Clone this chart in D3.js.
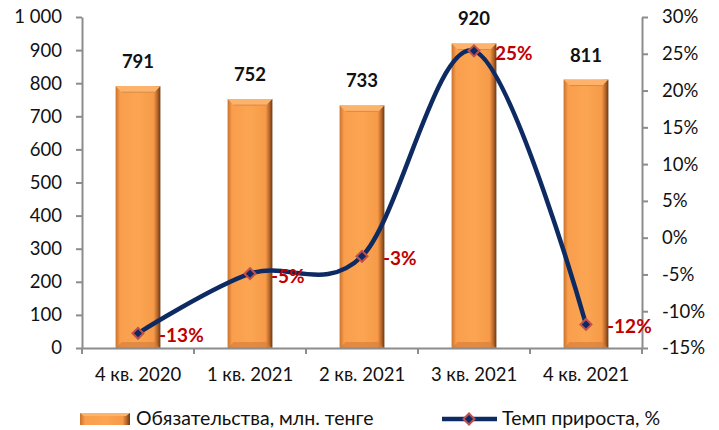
<!DOCTYPE html>
<html lang="ru">
<head>
<meta charset="utf-8">
<title>Обязательства</title>
<script src="https://d3js.org/d3.v7.min.js"></script>
<style>
  body { margin: 0; background: #fff; }
  .axis path, .axis line { stroke: #8c8c8c; stroke-width: 2; fill: none; }
  .axis text { font-family: Lato, "Open Sans", sans-serif; font-size: 18.5px; fill: #111; }
  .legend text { font-family: Lato, "Open Sans", sans-serif; font-size: 19.5px; fill: #111; }
</style>
</head>
<body>
<script>
const categories = ["4 кв. 2020", "1 кв. 2021", "2 кв. 2021", "3 кв. 2021", "4 кв. 2021"]
const liabilities = [791, 752, 733, 920, 811]
const growth = [-13, -4.9, -2.53, 25.4, -11.8]
const leftTicks = [0, 100, 200, 300, 400, 500, 600, 700, 800, 900, 1000]
const rightTicks = [-15, -10, -5, 0, 5, 10, 15, 20, 25, 30]

const w = 719
const h = 430
const plotL = 82, plotR = 642, plotT = 17, plotB = 348

const svg = d3.select("body").append("svg")
    .attr("width", w)
    .attr("height", h)

const defs = svg.append("defs")
const grad = defs.append("linearGradient").attr("id", "barGrad")
    .attr("x1", 0).attr("x2", 1).attr("y1", 0).attr("y2", 0)
grad.selectAll("stop")
    .data([[0, "#c9722c"], [0.1, "#f99e4c"], [0.5, "#fba552"], [0.85, "#f69a48"], [0.93, "#b9672a"], [1, "#6b3a12"]])
    .enter().append("stop")
    .attr("offset", d => d[0]).attr("stop-color", d => d[1])

const x = d3.scaleBand().domain(categories).range([plotL, plotR]).paddingInner(0.6).paddingOuter(0.3)
const xc = d3.scaleBand().domain(categories).range([plotL, plotR])
const yL = d3.scaleLinear().domain([0, 1000]).range([plotB, plotT])
const yR = d3.scaleLinear().domain([-15, 30]).range([plotB, plotT])

// bars
const bars = svg.append("g").selectAll("g")
    .data(liabilities).enter().append("g")

bars.append("rect")
    .attr("x", (d, i) => x(categories[i]))
    .attr("y", d => yL(d))
    .attr("width", x.bandwidth())
    .attr("height", d => plotB - yL(d))
    .attr("fill", "url(#barGrad)")

// top bevel
bars.append("path")
    .attr("d", (d, i) => {
        const x0 = x(categories[i]), x1 = x0 + x.bandwidth(), y0 = yL(d), b = 6
        return `M${x0},${y0}L${x1},${y0}L${x1 - b},${y0 + b}L${x0 + b},${y0 + b}Z`
    })
    .attr("fill", "#fdb36c")
bars.append("path")
    .attr("d", (d, i) => {
        const x0 = x(categories[i]), x1 = x0 + x.bandwidth(), y0 = yL(d), b = 6
        return `M${x0 + b},${y0 + b}L${x1 - b},${y0 + b}`
    })
    .attr("stroke", "#d98a44").attr("stroke-width", 1)
// bottom bevel
bars.append("path")
    .attr("d", (d, i) => {
        const x0 = x(categories[i]), x1 = x0 + x.bandwidth(), b = 6
        return `M${x0},${plotB}L${x1},${plotB}L${x1 - b},${plotB - b}L${x0 + b},${plotB - b}Z`
    })
    .attr("fill", "#d07c38").attr("opacity", 0.6)

bars.append("text")
    .attr("x", (d, i) => xc(categories[i]) + xc.bandwidth() / 2)
    .attr("y", d => yL(d) - 18)
    .attr("text-anchor", "middle")
    .attr("font-family", "Lato, 'Open Sans', sans-serif")
    .attr("font-weight", "bold")
    .attr("font-size", "18.5px")
    .attr("fill", "#111")
    .text(d => d)

// axes
const fmtL = d => d >= 1000 ? d3.format(",")(d).replace(",", " ") : d
svg.append("g").attr("class", "axis")
    .attr("transform", `translate(${plotL},0)`)
    .call(d3.axisLeft(yL).tickValues(leftTicks).tickSize(6).tickSizeOuter(0).tickPadding(14).tickFormat(fmtL))

svg.append("g").attr("class", "axis")
    .attr("transform", `translate(${plotR},0)`)
    .call(d3.axisRight(yR).tickValues(rightTicks).tickSize(6).tickSizeOuter(0).tickPadding(14).tickFormat(d => d + "%"))

const xAxis = svg.append("g").attr("class", "axis")
    .attr("transform", `translate(0,${plotB})`)
    .call(d3.axisBottom(xc).tickSize(0).tickPadding(20))
xAxis.selectAll(".tick line").remove()
xAxis.append("g").selectAll("line")
    .data(categories.concat([null])).enter().append("line")
    .attr("x1", (d, i) => plotL + i * xc.step())
    .attr("x2", (d, i) => plotL + i * xc.step())
    .attr("y1", 0).attr("y2", 6)

// growth line
const pts = growth.map((g, i) => [xc(categories[i]) + xc.bandwidth() / 2, yR(g)])
svg.append("path")
    .attr("d", d3.line().curve(d3.curveCardinal.tension(0))(pts))
    .attr("fill", "none")
    .attr("stroke", "#0d2a63")
    .attr("stroke-width", 4.5)

svg.append("g").selectAll("path")
    .data(pts).enter().append("path")
    .attr("transform", d => `translate(${d[0]},${d[1]}) rotate(45)`)
    .attr("d", d3.symbol().type(d3.symbolSquare).size(60))
    .attr("fill", "#0d2a63")
    .attr("stroke", "#c0504d")
    .attr("stroke-width", 2)

svg.append("g").selectAll("text")
    .data(growth).enter().append("text")
    .attr("x", (d, i) => pts[i][0] + 21)
    .attr("y", (d, i) => pts[i][1] + 9)
    .attr("font-family", "Lato, 'Open Sans', sans-serif")
    .attr("font-weight", "bold")
    .attr("font-size", "19px")
    .attr("fill", "#c00000")
    .text(d => Math.round(d) + "%")

// legend
const lg = svg.append("g").attr("class", "legend")
lg.append("rect").attr("x", 80).attr("y", 413).attr("width", 50).attr("height", 12).attr("fill", "url(#barGrad)")
lg.append("path").attr("d", "M80,413L130,413L126,416L84,416Z").attr("fill", "#fdb36c")
lg.append("text").attr("x", 136).attr("y", 425).text("Обязательства, млн. тенге")
lg.append("line").attr("x1", 442).attr("x2", 497).attr("y1", 419).attr("y2", 419)
    .attr("stroke", "#0d2a63").attr("stroke-width", 4.5)
lg.append("path").attr("transform", "translate(469,419) rotate(45)")
    .attr("d", d3.symbol().type(d3.symbolSquare).size(60))
    .attr("fill", "#0d2a63").attr("stroke", "#c0504d").attr("stroke-width", 2)
lg.append("text").attr("x", 502).attr("y", 425).text("Темп прироста, %")
</script>
</body>
</html>
